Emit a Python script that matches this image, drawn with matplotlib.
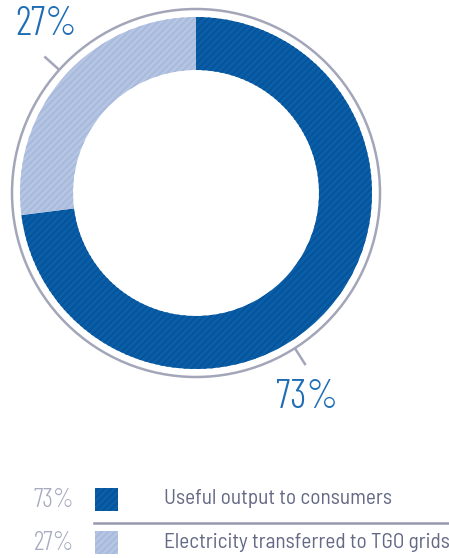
import numpy as np
import matplotlib.pyplot as plt

plt.rcParams["hatch.linewidth"] = 1.4

values = [73, 27]
labels = ["Useful output to consumers", "Electricity transferred to TGO grids"]
pct_labels = ["73%", "27%"]
colors = ["#0b5fa7", "#b5c5e3"]
hatch_colors = ["#04539c", "#a8badb"]
tick_angles = [-57.5, 138]
label_angles = [-61, 131]

PCT_FONT = ["Barlow Condensed", "DejaVu Sans"]
TXT_FONT = ["Barlow Semi Condensed", "DejaVu Sans"]

W, H = 449, 558
fig = plt.figure(figsize=(W / 100, H / 100), dpi=100)
ax = fig.add_axes([0, 0, 1, 1])

cx, cy = 196, H - 193
R = 176
ring = 53

wedges, _ = ax.pie(values, startangle=90, counterclock=False, radius=R,
                   center=(cx, cy), colors=colors,
                   wedgeprops=dict(width=ring, linewidth=0))
for w, hc in zip(wedges, hatch_colors):
    w.set_hatch("/////")
    w.set_edgecolor(hc)
    w.set_linewidth(0)

outline = plt.Circle((cx, cy), 184, fill=False, color="#a3a6b8", lw=1.8)
ax.add_patch(outline)

for ta, la, txt in zip(tick_angles, label_angles, pct_labels):
    t = np.deg2rad(ta)
    ax.plot([cx + 184 * np.cos(t), cx + 204 * np.cos(t)],
            [cy + 184 * np.sin(t), cy + 204 * np.sin(t)],
            color="#a3a6b8", lw=1.8, solid_capstyle="butt")
    a = np.deg2rad(la)
    ax.text(cx + 229 * np.cos(a), cy + 229 * np.sin(a) - 4.5, txt,
            ha="center", va="center", fontsize=29, color="#1f6db5",
            family=PCT_FONT, fontweight=300)

# legend
rows_y = [H - 499, H - 542]
for y, pct, lab, c, hc in zip(rows_y, pct_labels, labels, colors, hatch_colors):
    ax.text(54, y - 1, pct, ha="center", va="center", fontsize=19,
            color="#a7abbf", family=PCT_FONT, fontweight=300)
    ax.add_patch(plt.Rectangle((95, y - 11.5), 23, 23, facecolor=c,
                               edgecolor=hc, hatch="/////", lw=0))
    ax.text(164, y, lab, ha="left", va="center", fontsize=15.3,
            color="#646985", family=TXT_FONT)
ax.plot([94, 449], [H - 523, H - 523], color="#9699ad", lw=1.8)

ax.set_xlim(0, W)
ax.set_ylim(0, H)
ax.set_aspect("equal")
ax.axis("off")

fig.savefig("out.png", dpi=100)
